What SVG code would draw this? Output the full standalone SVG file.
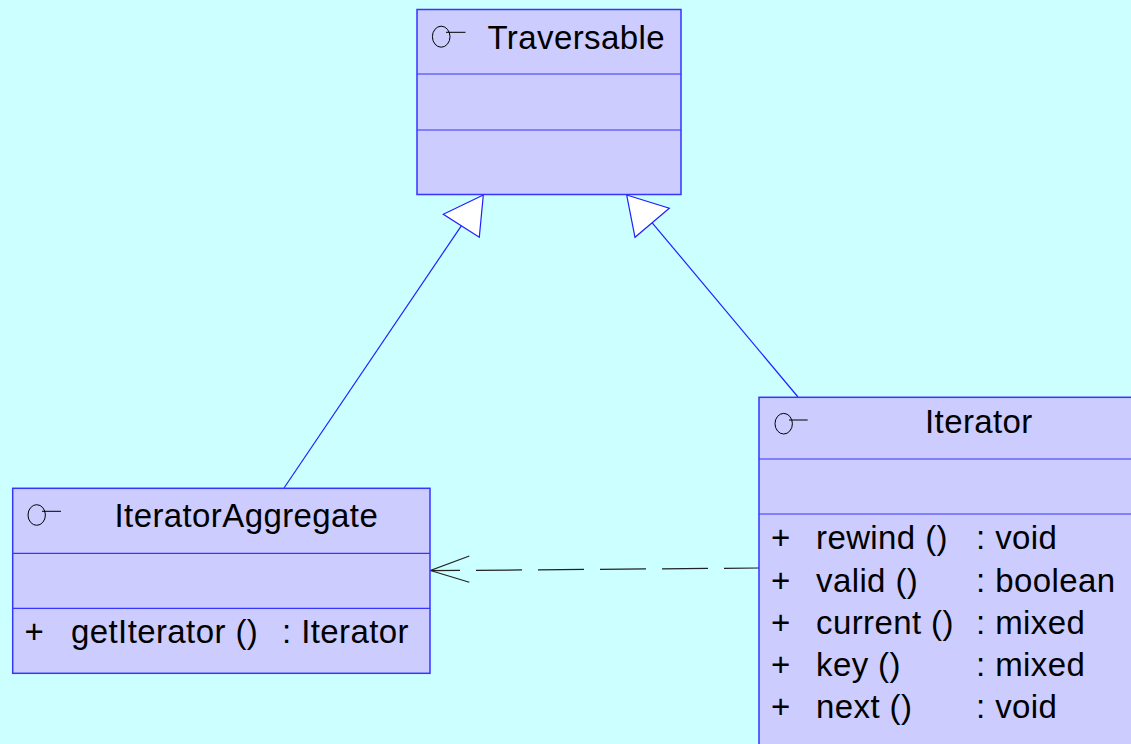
<svg xmlns="http://www.w3.org/2000/svg" width="1131" height="744" viewBox="0 0 1131 744">
<defs>
<style>
.box{fill:#CCCCFF;stroke:#3535FF;stroke-width:1.5}
.div{stroke:#3535FF;stroke-width:1.2;fill:none}
.ico{fill:none;stroke:#000;stroke-width:1}
.t{font-family:"Liberation Sans",Arial,sans-serif;font-size:33px;letter-spacing:0.4px;fill:#000}
.gen{stroke:#2020FF;stroke-width:1.2;fill:none}
.tri{fill:#FFFFFF;stroke:#2020FF;stroke-width:1.2}
.dep{stroke:#222;stroke-width:1.2;fill:none}
</style>
</defs>
<rect x="0" y="0" width="1131" height="744" fill="#CCFFFF"/>
<g id="connectors">
<line class="gen" x1="284" y1="488" x2="461.3" y2="225.8"/>
<polygon class="tri" points="483.3,195 443.3,214.3 479.3,237.3"/>
<line class="gen" x1="798" y1="397" x2="652.2" y2="222.8"/>
<polygon class="tri" points="626.7,195 669.3,208.3 635,237.3"/>
<line class="dep" x1="759" y1="568" x2="431" y2="570.7" stroke-dasharray="46 16" stroke-dashoffset="11"/>
<polyline class="dep" points="469.3,556 430.5,570.5 469.3,582.3"/>
</g>
<g id="traversable">
<rect class="box" x="417" y="9.5" width="264" height="185"/>
<line class="div" x1="417" y1="74" x2="681" y2="74"/>
<line class="div" x1="417" y1="130" x2="681" y2="130"/>
<ellipse class="ico" cx="441.2" cy="36.7" rx="8.8" ry="10.5"/>
<line class="ico" x1="446" y1="32.3" x2="465.5" y2="32.3"/>
<text class="t" x="487.5" y="49.3">Traversable</text>
</g>
<g id="iterator">
<rect class="box" x="759" y="397.3" width="380" height="360"/>
<line class="div" x1="759" y1="459" x2="1131" y2="459"/>
<line class="div" x1="759" y1="514" x2="1131" y2="514"/>
<ellipse class="ico" cx="783.7" cy="423.7" rx="8.7" ry="10.3"/>
<line class="ico" x1="789" y1="420" x2="807.7" y2="420"/>
<text class="t" x="925" y="432.7">Iterator</text>
<text class="t" x="771" y="549.3">+</text>
<text class="t" x="816" y="549.3">rewind ()</text>
<text class="t" x="976" y="549.3">: void</text>
<text class="t" x="771" y="591.5">+</text>
<text class="t" x="816" y="591.5">valid ()</text>
<text class="t" x="976" y="591.5">: boolean</text>
<text class="t" x="771" y="633.8">+</text>
<text class="t" x="816" y="633.8">current ()</text>
<text class="t" x="976" y="633.8">: mixed</text>
<text class="t" x="771" y="676">+</text>
<text class="t" x="816" y="676">key ()</text>
<text class="t" x="976" y="676">: mixed</text>
<text class="t" x="771" y="718.3">+</text>
<text class="t" x="816" y="718.3">next ()</text>
<text class="t" x="976" y="718.3">: void</text>
</g>
<g id="iteratoraggregate">
<rect class="box" x="12.7" y="488.3" width="417.3" height="185"/>
<line class="div" x1="12.7" y1="553.3" x2="430" y2="553.3"/>
<line class="div" x1="12.7" y1="608.3" x2="430" y2="608.3"/>
<ellipse class="ico" cx="36.7" cy="515" rx="8.7" ry="10.3"/>
<line class="ico" x1="42" y1="511.3" x2="61" y2="511.3"/>
<text class="t" x="114.5" y="526.7">IteratorAggregate</text>
<text class="t" x="24.5" y="643.3">+</text>
<text class="t" x="71" y="643.3">getIterator ()</text>
<text class="t" x="282" y="643.3">: Iterator</text>
</g>
</svg>
